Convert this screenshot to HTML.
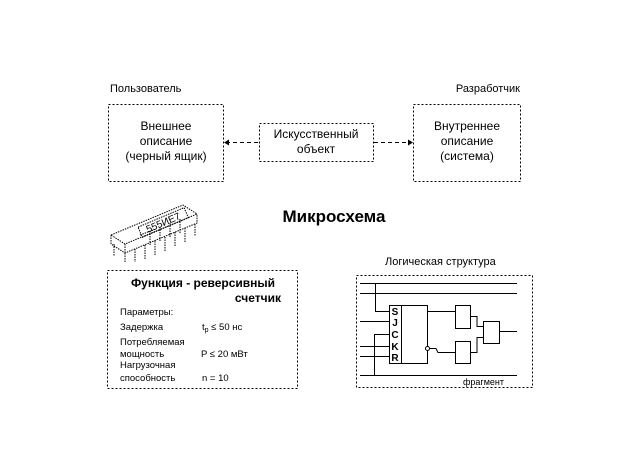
<!DOCTYPE html>
<html><head><meta charset="utf-8"><style>
html,body{margin:0;padding:0;background:#fff;}
svg{display:block;font-family:"Liberation Sans",Arial,sans-serif;}
</style></head><body>
<svg width="633" height="474" viewBox="0 0 633 474">
<g fill="none" stroke="#000" stroke-width="1" stroke-dasharray="2,2">
<rect x="108.5" y="104.5" width="115" height="77"/>
<rect x="259.5" y="123.5" width="114" height="38"/>
<rect x="413.5" y="104.5" width="107" height="77"/>
<rect x="107.5" y="270.5" width="190" height="118"/>
<rect x="356.5" y="275.5" width="176" height="112"/>
<line x1="226" y1="142.5" x2="259" y2="142.5" stroke-dasharray="4,3"/>
<line x1="374" y1="142.5" x2="410" y2="142.5" stroke-dasharray="4,3"/>
</g>
<path d="M224 142.5 l5 -3 v6z M413 142.5 l-5 -3 v6z" fill="#000"/>
<g font-size="11" fill="#000">
<text x="110" y="92">Пользователь</text>
<text x="520" y="92" text-anchor="end">Разработчик</text>
</g>
<g font-size="12" text-anchor="middle" fill="#000">
<text x="166" y="130">Внешнее</text>
<text x="166" y="145">описание</text>
<text x="166" y="160">(черный ящик)</text>
<text x="316" y="138">Искусственный</text>
<text x="316" y="153">объект</text>
<text x="467" y="130">Внутреннее</text>
<text x="467" y="145">описание</text>
<text x="467" y="160">(система)</text>
</g>
<text x="334" y="222" font-size="17" font-weight="bold" text-anchor="middle">Микросхема</text>
<!-- chip -->
<g fill="none" stroke="#000" stroke-width="1" stroke-dasharray="1.5,1">
<path d="M111 235 L183 205 L197 214 L125 244 Z"/>
<path d="M111 235 L111 244 L125 253 L197 223 L197 214"/>
<path d="M125 244 L125 253"/>
<path d="M114 244 l0 12 M125 253 l0 10 M135 249 l0 13 M145 245 l0 14 M155 241 l0 14 M165 237 l0 14 M175 232 l0 14 M185 228 l0 14 M195 224 l0 12"/>
<path d="M140 235 l16 -6 M150 231 l0 14 M160 227 l0 14 M170 223 l0 14 M180 219 l0 14"/>
<rect x="138" y="217" width="50" height="11" transform="rotate(-23 163 222)"/>
</g>
<text x="163" y="226" font-size="10" text-anchor="middle" transform="rotate(-23 163 222)">555ИЕ7</text>
<!-- function box -->
<text x="203" y="287" font-size="12" font-weight="bold" text-anchor="middle">Функция - реверсивный</text>
<text x="281" y="302" font-size="12" font-weight="bold" text-anchor="end">счетчик</text>
<g font-size="9.5" fill="#000">
<text x="120" y="315">Параметры:</text>
<text x="120" y="330">Задержка</text>
<text x="202" y="330">t<tspan font-size="7" dy="2">p</tspan><tspan dy="-2">  ≤  50 нс</tspan></text>
<text x="120" y="345">Потребляемая</text>
<text x="120" y="357">мощность</text>
<text x="201" y="357">P  ≤  20 мВт</text>
<text x="120" y="368">Нагрузочная</text>
<text x="120" y="381">способность</text>
<text x="202" y="381">n  =  10</text>
</g>
<text x="385" y="265" font-size="11">Логическая структура</text>
<!-- logic -->
<g fill="none" stroke="#000" stroke-width="1">
<line x1="360" y1="283.5" x2="517" y2="283.5"/>
<line x1="360" y1="293.5" x2="517" y2="293.5"/>
<line x1="360" y1="375.5" x2="517" y2="375.5"/>
<polyline points="375.5,283 375.5,311.5 389,311.5"/>
<line x1="360" y1="321.5" x2="389" y2="321.5"/>
<polyline points="374.5,375 374.5,334.5 389,334.5"/>
<line x1="360" y1="346.5" x2="389" y2="346.5"/>
<line x1="360" y1="356.5" x2="389" y2="356.5"/>
<rect x="389.5" y="305.5" width="38" height="58"/>
<line x1="401.5" y1="305" x2="401.5" y2="363"/>
<line x1="427" y1="311.5" x2="455" y2="311.5"/>
<polyline points="430,348.5 436,348.5 438,352.5 455,352.5"/>
<circle cx="427.5" cy="348.5" r="2" fill="#fff"/>
<rect x="455.5" y="305.5" width="15" height="23"/>
<rect x="455.5" y="341.5" width="15" height="22"/>
<rect x="483.5" y="321.5" width="16" height="22"/>
<polyline points="470,316.5 477,316.5 477,326.5 483,326.5"/>
<polyline points="470,352.5 477,352.5 477,337.5 483,337.5"/>
<line x1="499" y1="331.5" x2="517" y2="331.5"/>
</g>
<g font-size="10" font-weight="bold" text-anchor="middle">
<text x="395" y="315">S</text>
<text x="395" y="326">J</text>
<text x="395" y="338">C</text>
<text x="395" y="350">K</text>
<text x="395" y="361">R</text>
</g>
<text x="463" y="385" font-size="9">фрагмент</text>
</svg>
</body></html>
